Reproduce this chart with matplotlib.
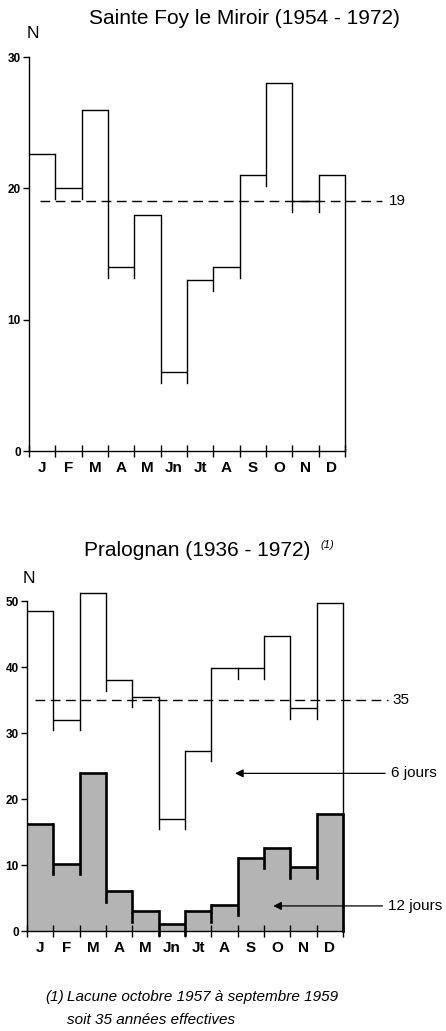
import numpy as np
import matplotlib
matplotlib.use("Agg")
import matplotlib.pyplot as plt

# --- données ---
mois = ["J", "F", "M", "A", "M", "Jn", "Jt", "A", "S", "O", "N", "D"]
sainte_foy = [22.6, 20, 26, 14, 18, 6, 13, 14, 21, 28, 19, 21]
sainte_foy_moy = 19
pralognan_6j = [48.5, 32, 51.3, 38, 35.5, 17, 27.3, 39.8, 39.8, 44.7, 33.8, 49.7]
pralognan_12j = [16.2, 10.2, 24, 6, 3, 1, 3, 4, 11.1, 12.6, 9.7, 17.8]
pralognan_moy = 35

plt.rcParams['font.family'] = ['Liberation Sans', 'DejaVu Sans']

W, H = 446, 1031
fig = plt.figure(figsize=(W / 100, H / 100), dpi=100)


def px_axes(x0, x1, y_top, y_bot):
    return fig.add_axes([x0 / W, 1 - y_bot / H, (x1 - x0) / W, (y_bot - y_top) / H])


def contour(ax, vals, ext, lw):
    """Histogramme en escalier avec petits traits qui dépassent."""
    n = len(vals)
    for i, v in enumerate(vals):
        ax.plot([i, i + 1], [v, v], color="black", lw=lw, solid_capstyle="butt", clip_on=False)
    for i in range(1, n):
        lo, hi = min(vals[i - 1], vals[i]), max(vals[i - 1], vals[i])
        ax.plot([i, i], [lo - ext, hi], color="black", lw=lw, clip_on=False)
    ax.plot([n, n], [0, vals[-1]], color="black", lw=lw, clip_on=False)


def habillage(ax, ymax, yticks, ytop_spine):
    ax.set_xlim(0, 12)
    ax.set_ylim(0, ymax)
    for s in ["top", "right"]:
        ax.spines[s].set_visible(False)
    ax.spines["left"].set_bounds(0, ytop_spine)
    ax.spines["bottom"].set_bounds(0, 12)
    ax.spines["left"].set_linewidth(1.0)
    ax.spines["bottom"].set_linewidth(1.0)
    ax.set_xticks(np.arange(13))
    ax.set_xticklabels([])
    ax.tick_params(axis="x", which="major", direction="inout", length=9, width=1.0)
    ax.set_xticks(np.arange(12) + 0.5, minor=True)
    ax.set_xticklabels(mois, minor=True, fontsize=11, fontweight="bold")
    ax.tick_params(axis="x", which="minor", length=0, pad=7)
    ax.set_yticks(yticks)
    ax.set_yticklabels([str(t) for t in yticks], fontsize=8.5, fontweight="bold")
    ax.tick_params(axis="y", direction="out", length=4, width=1.0, pad=2)


# --- Sainte Foy le Miroir ---
ax1 = px_axes(29, 345, 57, 451)
habillage(ax1, 30, [0, 10, 20, 30], 30)
contour(ax1, sainte_foy, 0.8, 1.0)
ax1.plot([0.4, 13.4], [sainte_foy_moy, sainte_foy_moy], color="black", lw=1.0,
         dashes=(7, 4), clip_on=False)
ax1.text(13.65, sainte_foy_moy, str(sainte_foy_moy), fontsize=11, va="center", ha="left")
ax1.text(0.15, 31.8, "N", fontsize=12.5, ha="center", va="center")
fig.text(244 / W, 1 - 18 / H, "Sainte Foy le Miroir (1954 - 1972)", fontsize=15,
         ha="center", va="center")

# --- Pralognan ---
ax2 = px_axes(27, 343, 588, 931)
habillage(ax2, 52, [0, 10, 20, 30, 40, 50], 50)
x = np.arange(12) + 0.5
ax2.bar(x, pralognan_12j, width=1.0, color="#b4b4b4", edgecolor="none")
contour(ax2, pralognan_12j, 1.6, 1.9)
contour(ax2, pralognan_6j, 1.6, 1.0)
ax2.plot([0.3, 13.7], [pralognan_moy, pralognan_moy], color="black", lw=1.0,
         dashes=(7, 4), clip_on=False)
ax2.text(13.86, pralognan_moy, str(pralognan_moy), fontsize=11, va="center", ha="left")
ax2.text(0.08, 53.5, "N", fontsize=12.5, ha="center", va="center", clip_on=False)

ax2.annotate("", xy=(7.9, 23.9), xytext=(13.6, 23.9),
             arrowprops=dict(arrowstyle="-|>", lw=0.9, color="black",
                             mutation_scale=12, shrinkA=0, shrinkB=0))
ax2.text(13.82, 23.9, "6 jours", fontsize=11, va="center", ha="left")
ax2.annotate("", xy=(9.35, 3.8), xytext=(13.5, 3.8),
             arrowprops=dict(arrowstyle="-|>", lw=0.9, color="black",
                             mutation_scale=12, shrinkA=0, shrinkB=0))
ax2.text(13.7, 3.8, "12 jours", fontsize=11, va="center", ha="left")

fig.text(197.5 / W, 1 - 550 / H, "Pralognan (1936 - 1972)", fontsize=15,
         ha="center", va="center")
fig.text(320 / W, 1 - 545 / H, "(1)", fontsize=8, style="italic",
         ha="left", va="center")

# --- note ---
fig.text(45 / W, 1 - 997 / H, "(1)", fontsize=11, style="italic", ha="left", va="center")
fig.text(67 / W, 1 - 997 / H, "Lacune octobre 1957 à septembre 1959", fontsize=11,
         style="italic", ha="left", va="center")
fig.text(67 / W, 1 - 1020 / H, "soit 35 années effectives", fontsize=11,
         style="italic", ha="left", va="center")

fig.savefig("out.png", dpi=100)
